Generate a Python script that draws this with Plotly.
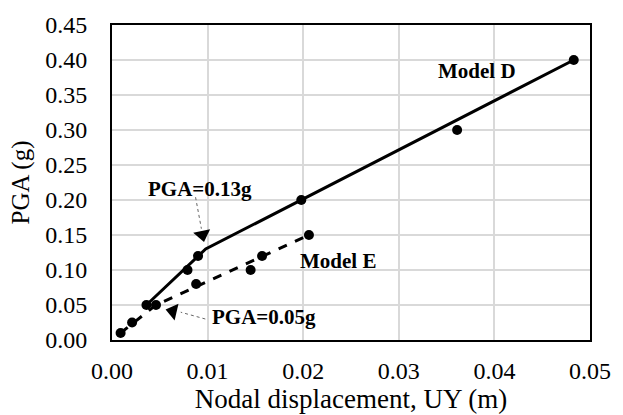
import plotly.graph_objects as go

# Data points
d_x = [0.0009, 0.0036, 0.0079, 0.0090, 0.0198, 0.0361, 0.0483]
d_y = [0.010, 0.050, 0.100, 0.120, 0.200, 0.300, 0.400]
e_x = [0.0021, 0.0046, 0.0088, 0.0145, 0.0157, 0.0206]
e_y = [0.025, 0.050, 0.080, 0.100, 0.120, 0.150]
# Fitted bilinear trend lines
d_line_x = [0.0036, 0.0098, 0.0483]
d_line_y = [0.050, 0.130, 0.400]
e_line_x = [0.0009, 0.0046, 0.0206]
e_line_y = [0.010, 0.050, 0.150]

x_ticks = [0.00, 0.01, 0.02, 0.03, 0.04, 0.05]
y_ticks = [0.00, 0.05, 0.10, 0.15, 0.20, 0.25, 0.30, 0.35, 0.40, 0.45]

serif = "Liberation Serif"
fig = go.Figure()
fig.add_trace(go.Scatter(x=d_line_x, y=d_line_y, mode="lines",
                         line=dict(color="black", width=3)))
fig.add_trace(go.Scatter(x=e_line_x, y=e_line_y, mode="lines",
                         line=dict(color="black", width=3, dash="dash")))
fig.add_trace(go.Scatter(x=d_x, y=d_y, mode="markers",
                         marker=dict(color="black", size=10)))
fig.add_trace(go.Scatter(x=e_x, y=e_y, mode="markers",
                         marker=dict(color="black", size=10)))

# Arrow pointers (dotted stems + triangle heads)
fig.add_trace(go.Scatter(x=[0.00874, 0.00935], y=[0.204, 0.159], mode="lines",
                         line=dict(color="#666666", width=1, dash="dot")))
fig.add_trace(go.Scatter(x=[0.00976, 0.00719], y=[0.030, 0.0397], mode="lines",
                         line=dict(color="#666666", width=1, dash="dot")))
fig.add_trace(go.Scatter(x=[0.00946, 0.00637], y=[0.1505, 0.041], mode="markers",
                         marker=dict(color="black", size=15,
                                     symbol=["triangle-down", "triangle-left"],
                                     angle=[-12, 13])))

ann_font = dict(family=serif, size=21, color="black")
fig.add_annotation(x=0.00925, y=0.216, text="<b>PGA=0.13g</b>", showarrow=False, font=ann_font)
fig.add_annotation(x=0.0159, y=0.033, text="<b>PGA=0.05g</b>", showarrow=False, font=ann_font)
fig.add_annotation(x=0.0382, y=0.384, text="<b>Model D</b>", showarrow=False, font=ann_font)
fig.add_annotation(x=0.02364, y=0.1135, text="<b>Model E</b>", showarrow=False, font=ann_font)

fig.update_layout(
    width=623, height=415,
    margin=dict(l=112, r=25, t=13, b=73),
    plot_bgcolor="white", paper_bgcolor="white",
    showlegend=False,
    font=dict(family=serif, color="black"),
)
tick_font = dict(family=serif, size=24, color="black")
fig.update_xaxes(range=[0, 0.05], tickvals=x_ticks, tickformat=".2f",
                 showgrid=True, gridcolor="#d9d9d9", gridwidth=1.5,
                 showline=True, linecolor="black", linewidth=2, mirror=True,
                 zeroline=False, ticks="", tickfont=tick_font,
                 ticklabelstandoff=8,
                 title=dict(text="Nodal displacement, UY (m)",
                            font=dict(family=serif, size=27, color="black"), standoff=0))
fig.update_yaxes(range=[0, 0.45], tickvals=y_ticks, tickformat=".2f",
                 showgrid=True, gridcolor="#d9d9d9", gridwidth=1.5,
                 showline=True, linecolor="black", linewidth=2, mirror=True,
                 zeroline=False, ticks="", tickfont=tick_font,
                 ticklabelstandoff=18,
                 title=dict(text="PGA (g)",
                            font=dict(family=serif, size=25, color="black"), standoff=8))

fig.write_html("out.html")
